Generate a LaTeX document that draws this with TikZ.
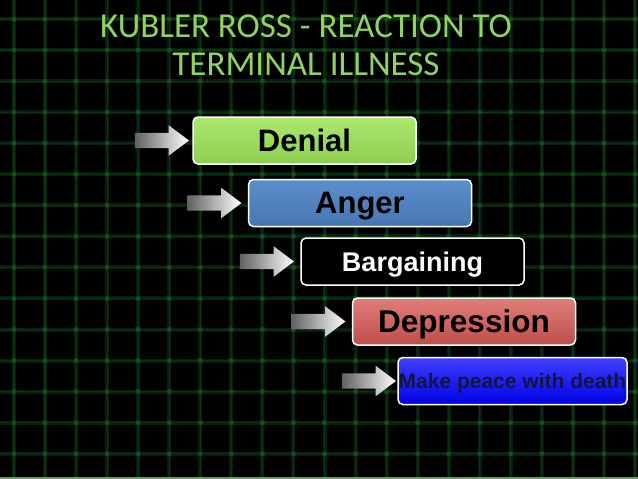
\documentclass[tikz,border=0pt]{standalone}
\usepackage{fontspec}
\setmainfont{Liberation Sans}
\newfontfamily\titlefont{Carlito}
\usepackage{tikz}
\usetikzlibrary{shapes.arrows, positioning}

\definecolor{titlegreen}{RGB}{146,210,98}
\definecolor{gridglow}{RGB}{6,30,10}
\definecolor{gridcore}{RGB}{11,50,18}
\definecolor{griddot}{RGB}{20,78,28}
\definecolor{bgmid}{RGB}{6,14,7}
\definecolor{denialtop}{RGB}{172,232,112}
\definecolor{denialbot}{RGB}{140,206,80}
\definecolor{angertop}{RGB}{92,142,204}
\definecolor{angerbot}{RGB}{70,118,178}
\definecolor{depresstop}{RGB}{224,126,120}
\definecolor{depressbot}{RGB}{190,78,74}
\definecolor{peacetop}{RGB}{64,64,255}
\definecolor{peacebot}{RGB}{0,0,228}
\definecolor{peacetext}{RGB}{20,20,64}

\begin{document}
\begin{tikzpicture}[x=1pt, y=-1pt,
    stage/.style={draw=white, line width=1.5pt, rounded corners=5pt,
        minimum width=223pt, minimum height=47pt, inner sep=0pt, text depth=0pt},
    pointer/.style={single arrow, draw=none, inner xsep=0pt, inner ysep=7.5pt,
        minimum height=54pt, single arrow head extend=7.5pt,
        single arrow tip angle=74, left color=black!62, right color=white},
    titletext/.style={text=titlegreen, font=\titlefont\fontsize{35}{38}\selectfont}]
        \useasboundingbox (0,0) rectangle (638,479);

        % background and grid
        \shade[top color=black, middle color=bgmid, bottom color=black!90!bgmid] (0,0) rectangle (638,479);
        \foreach \i in {0,...,20} {
            \draw[gridglow, line width=4pt] ({14+31.05*\i},0) -- ({14+31.05*\i},479);
            \draw[gridcore, line width=1.2pt] ({14+31.05*\i},0) -- ({14+31.05*\i},479);
        }
        \foreach \j in {0,...,14} {
            \draw[gridglow, line width=4pt] (0,{19+31.05*\j}) -- (638,{19+31.05*\j});
            \draw[gridcore, line width=1.2pt] (0,{19+31.05*\j}) -- (638,{19+31.05*\j});
        }
        \foreach \i in {0,...,20}
            \foreach \j in {0,...,14}
                \fill[griddot] ({14+31.05*\i},{19+31.05*\j}) circle (2.5);
        \draw[gray!80!green, line width=1.5pt] (0,478) -- (638,478);

        % title
        \node[titletext, anchor=base] (title1) at (306,37) {KUBLER ROSS - REACTION TO};
        \node[titletext, anchor=base] (title2) at (306,75) {TERMINAL ILLNESS};

        % stages
        \node[stage, top color=denialtop, bottom color=denialbot, font=\bfseries\fontsize{31}{31}\selectfont] (denial) at (304.5,140.5) {Denial};
        \node[stage, top color=angertop, bottom color=angerbot, font=\bfseries\fontsize{31}{31}\selectfont] (anger) at (360,203) {Anger};
        \node[stage, fill=black, text=white, font=\bfseries\fontsize{27}{27}\selectfont] (bargain) at (412.5,261.5) {Bargaining};
        \node[stage, top color=depresstop, bottom color=depressbot, font=\bfseries\fontsize{31.5}{31.5}\selectfont] (depress) at (464,321.5) {Depression};
        \node[stage, minimum width=229pt, top color=peacetop, bottom color=peacebot, text=peacetext, font=\bfseries\fontsize{21}{21}\selectfont] (peace) at (512.5,381) {Make peace with death};

        % arrows
        \node[pointer, left=3pt of denial] (p1) {};
        \node[pointer, left=6pt of anger] (p2) {};
        \node[pointer, left=6pt of bargain] (p3) {};
        \node[pointer, left=6pt of depress] (p4) {};
        \node[pointer, left=1pt of peace] (p5) {};

    \end{tikzpicture}
\end{document}
